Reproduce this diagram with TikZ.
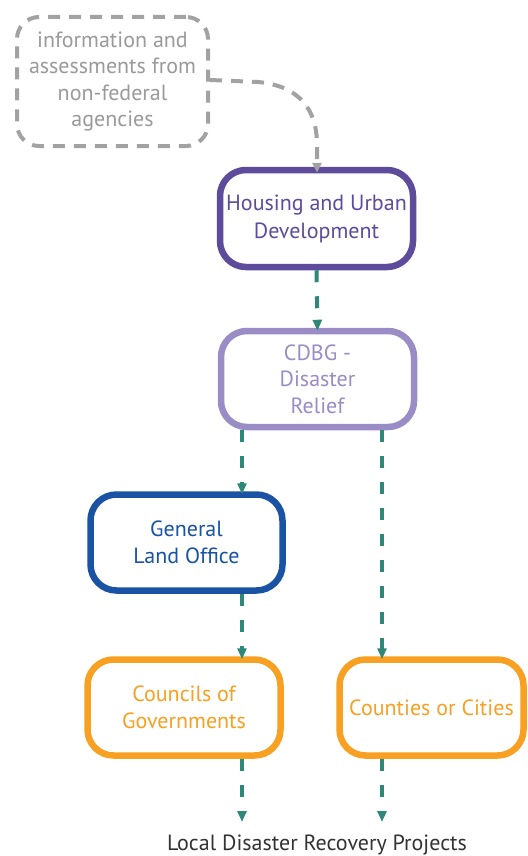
\documentclass[tikz,border=0pt]{standalone}
\usepackage{fontspec}
\setmainfont{PT Sans}
\usetikzlibrary{arrows.meta}
\definecolor{infoc}{HTML}{A2A2A2}
\definecolor{infot}{HTML}{9A9A9A}
\definecolor{hudc}{HTML}{5E4B9C}
\definecolor{cdbgc}{HTML}{9A8CC4}
\definecolor{gloc}{HTML}{1A52A4}
\definecolor{orc}{HTML}{F7A021}
\definecolor{flowc}{HTML}{2E8777}
\definecolor{darkt}{HTML}{333333}
\begin{document}
\begin{tikzpicture}[x=1pt,y=-1pt,
  box/.style={rectangle, rounded corners=26pt, line width=6.5pt, align=center,
    font=\fontsize{22}{26.5}\selectfont, inner sep=0pt, fill=white},
  flow/.style={draw=flowc, line width=4pt, dash pattern=on 12pt off 14pt,
    -{Triangle[width=9pt,length=11pt]}},
  grayflow/.style={draw=infoc, line width=4pt, dash pattern=on 12pt off 9pt,
    -{Triangle[width=9pt,length=10pt]}},
]
\useasboundingbox (0,0) rectangle (527,856);

\node[box, draw=infoc, text=infot, line width=4pt, dash pattern=on 12pt off 9pt,
  minimum width=191pt, minimum height=129pt, rounded corners=22pt]
  (info) at (112.5,81.5) {information and\\assessments from\\non-federal\\agencies};

\node[box, draw=hudc, text=hudc, minimum width=193pt, minimum height=97pt,
  font=\fontsize{22}{28}\selectfont]
  (hud) at (316.5,218.5) {Housing and Urban\\Development};

\node[box, draw=cdbgc, text=cdbgc, minimum width=193pt, minimum height=96pt]
  (cdbg) at (317.5,379) {CDBG -\\Disaster\\Relief};

\node[box, draw=gloc, text=gloc, minimum width=192pt, minimum height=96pt]
  (glo) at (186.5,542.5) {General\\Land Office};

\node[box, draw=orc, text=orc, minimum width=193pt, minimum height=96pt]
  (cog) at (184,707.5) {Councils of\\Governments};

\node[box, draw=orc, text=orc, minimum width=184pt, minimum height=96pt]
  (cty) at (431.5,707.5) {Counties or Cities};

\node[font=\fontsize{22}{26}\selectfont, text=darkt, inner sep=0pt]
  (local) at (317,845) {Local Disaster Recovery Projects};

\coordinate (endL) at (242,822);
\coordinate (endR) at (382,822);

% gray connector
\draw[grayflow] (info.east |- 0,80) -- (258,82)
  .. controls (300,86) and (317,110) .. (317,145) -- ([yshift=-6pt]hud.north -| 317,0);

% flows
\draw[flow] (hud.south) -- ([yshift=-3pt]cdbg.north);
\draw[flow] (cdbg.south -| 242,0) -- ([yshift=-3pt]glo.north -| 242,0);
\draw[flow] (cdbg.south -| 382,0) -- ([yshift=-3pt]cty.north -| 382,0);
\draw[flow] (glo.south -| 242,0) -- ([yshift=-3pt]cog.north -| 242,0);
\draw[flow] (cog.south -| 242,0) -- (endL);
\draw[flow] (cty.south -| 382,0) -- (endR);
\end{tikzpicture}
\end{document}
